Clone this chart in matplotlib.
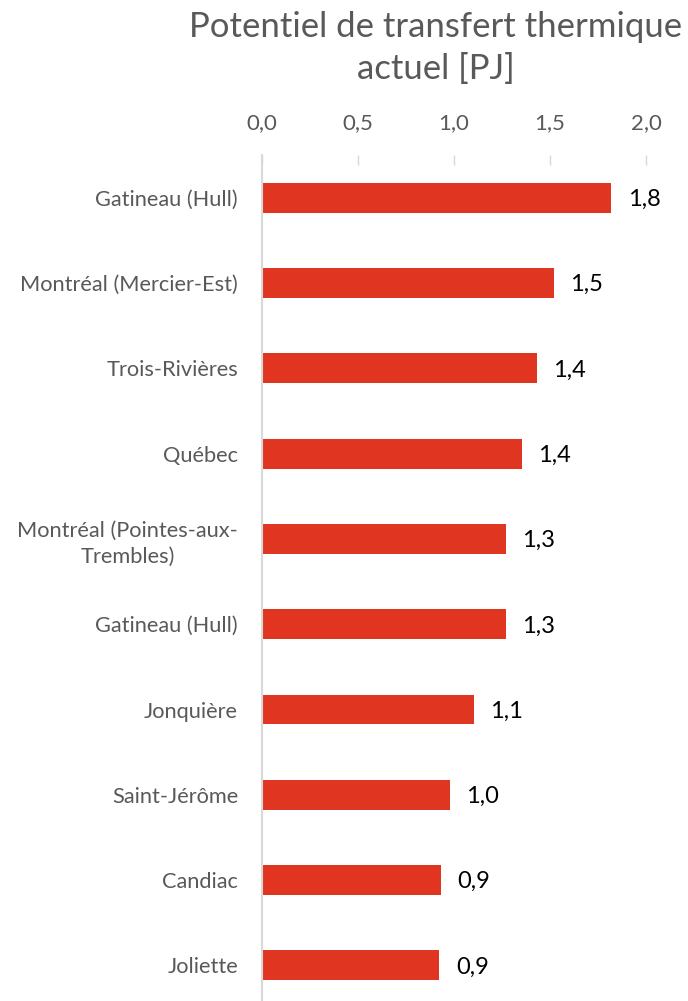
import matplotlib
matplotlib.use("Agg")
import matplotlib.pyplot as plt
from matplotlib.ticker import FuncFormatter

categories = ["Gatineau (Hull)", "Montréal (Mercier-Est)", "Trois-Rivières", "Québec",
              "Montréal (Pointes-aux-\nTrembles)", "Gatineau (Hull)", "Jonquière",
              "Saint-Jérôme", "Candiac", "Joliette"]
values = [1.82, 1.52, 1.43, 1.355, 1.27, 1.27, 1.105, 0.98, 0.935, 0.925]
xticks = [0.0, 0.5, 1.0, 1.5, 2.0]
title_lines = ["Potentiel de transfert thermique", "actuel [PJ]"]

plt.rcParams['font.family'] = ['Lato', 'DejaVu Sans']
gray = "#595959"
W, H = 688, 1001
fig = plt.figure(figsize=(W / 100, H / 100), dpi=100)
ax = fig.add_axes([0.3804, -0.007, 0.5586, 0.852])

y = list(range(len(categories)))
ax.barh(y, values, height=0.35, color="#E03520", zorder=2)
ax.set_ylim(len(categories) - 0.5, -0.5)
ax.set_xlim(0, 2.0)
ax.set_yticks(y)
ax.set_yticklabels(categories, fontsize=15.7, color=gray, linespacing=1.35)
for lab in ax.get_yticklabels():
    lab.set_multialignment("center")
ax.set_xticks(xticks)
ax.xaxis.set_major_formatter(FuncFormatter(lambda v, p: f"{v:.1f}".replace(".", ",")))
ax.xaxis.tick_top()
ax.tick_params(axis='x', direction='in', length=7, width=1, color="#D9D9D9",
               labelsize=16, labelcolor=gray, pad=16)
ax.tick_params(axis='y', length=0, pad=17)
for s in ["right", "bottom", "top"]:
    ax.spines[s].set_visible(False)
ax.spines["left"].set_color("#D9D9D9")
ax.spines["left"].set_linewidth(1.5)

for yi, v in zip(y, values):
    ax.text(v + 0.085, yi + 0.02, f"{round(v, 1):.1f}".replace(".", ","), va="center", ha="left",
            fontsize=17, color="black")

fig.text(436 / W, 1 - 37 / H, title_lines[0], ha="center", va="baseline", fontsize=25, color=gray)
fig.text(436 / W, 1 - 79 / H, title_lines[1], ha="center", va="baseline", fontsize=25, color=gray)

fig.savefig("out.png", dpi=100)
